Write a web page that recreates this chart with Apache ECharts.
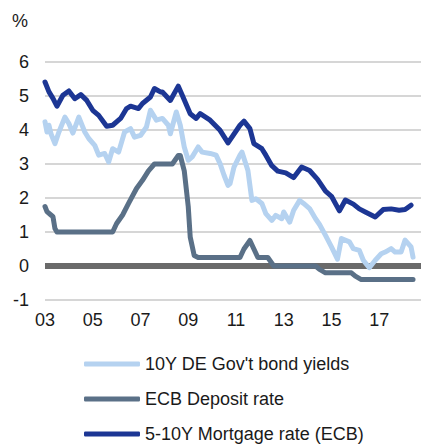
<!DOCTYPE html>
<html>
<head>
<meta charset="utf-8">
<script src="https://cdn.jsdelivr.net/npm/echarts@6/dist/echarts.min.js"></script>
<style>
    html, body { margin: 0; padding: 0; background: #fff; }
    #rates_chart { width: 424px; height: 446px; }
</style>
</head>
<body>
<div id="rates_chart"></div>
<script>
// data (month, value)
var seriesNames = ['10Y DE Gov\'t bond yields', 'ECB Deposit rate', '5-10Y Mortgage rate (ECB)'];
var xTickLabels = ['03', '05', '07', '09', '11', '13', '15', '17'];

var bundDates = ['2003-01','2003-02','2003-03','2003-04','2003-06','2003-08','2003-11','2004-01','2004-03','2004-06',
    '2004-09','2004-11','2005-02','2005-04','2005-07','2005-09','2005-11','2006-02','2006-05','2006-08',
    '2006-10','2007-01','2007-04','2007-06','2007-09','2007-12','2008-03','2008-04','2008-07','2008-09',
    '2008-11','2009-01','2009-03','2009-06','2009-08','2009-12','2010-03','2010-05','2010-07','2010-09',
    '2010-10','2010-12','2011-03','2011-04','2011-07','2011-09','2011-11','2012-02','2012-04','2012-07',
    '2012-09','2012-12','2013-01','2013-04','2013-06','2013-09','2013-11','2014-02','2014-05','2014-07',
    '2014-10','2015-01','2015-04','2015-06','2015-10','2015-12','2016-03','2016-05','2016-08','2016-11',
    '2017-02','2017-04','2017-07','2017-09','2017-12','2018-02','2018-05','2018-06'];
var bundValues = [4.24,3.94,4.14,3.89,3.6,3.94,4.38,4.19,3.91,4.38,
    3.94,3.75,3.55,3.26,3.31,3.06,3.45,3.35,3.94,4.04,
    3.79,3.84,4.09,4.58,4.29,4.34,4.14,3.89,4.53,4.14,
    3.5,3.11,3.21,3.5,3.35,3.31,3.26,3.01,2.67,2.37,
    2.42,2.91,3.26,3.35,2.81,1.93,1.98,1.84,1.54,1.34,
    1.49,1.39,1.59,1.29,1.64,1.93,1.84,1.69,1.39,1.22,
    0.9,0.56,0.2,0.81,0.71,0.51,0.46,0.17,-0.05,0.17,
    0.36,0.41,0.51,0.41,0.41,0.76,0.56,0.26];

var depoDates = ['2003-01','2003-02','2003-04','2003-05','2003-06','2003-07','2005-11','2006-01','2006-04','2006-07',
    '2006-11','2007-02','2007-05','2007-08','2008-05','2008-08','2008-09','2008-11','2009-01','2009-02',
    '2009-04','2009-06','2011-03','2011-05','2011-08','2011-10','2011-12','2012-05','2012-08','2014-05',
    '2014-07','2014-10','2015-11','2016-01','2016-04','2018-06'];
var depoValues = [1.75,1.6,1.5,1.45,1.1,1.0,1.0,1.25,1.5,1.84,
    2.28,2.52,2.8,3.0,3.0,3.25,3.25,2.8,1.75,0.85,
    0.31,0.25,0.25,0.5,0.75,0.5,0.25,0.25,0.0,0.0,
    -0.1,-0.2,-0.2,-0.3,-0.4,-0.4];

var mortDates = ['2003-01','2003-03','2003-05','2003-07','2003-10','2004-01','2004-04','2004-07','2004-10','2005-01',
    '2005-04','2005-08','2005-11','2006-03','2006-06','2006-08','2006-12','2007-02','2007-06','2007-08',
    '2007-11','2007-12','2008-04','2008-08','2008-10','2009-02','2009-05','2009-07','2009-12','2010-05',
    '2010-09','2011-03','2011-05','2011-08','2011-10','2012-02','2012-04','2012-07','2012-10','2013-02',
    '2013-06','2013-10','2014-02','2014-06','2014-10','2015-01','2015-05','2015-08','2015-12','2016-03',
    '2016-06','2016-11','2017-03','2017-07','2017-11','2018-02','2018-05'];
var mortValues = [5.41,5.12,4.93,4.7,5.02,5.15,4.92,5.04,4.87,4.58,
    4.43,4.11,4.14,4.34,4.63,4.7,4.63,4.78,4.97,5.22,
    5.12,5.12,4.87,5.29,5.02,4.48,4.34,4.48,4.29,3.99,
    3.62,4.14,4.26,4.04,3.6,3.45,3.26,2.95,2.79,2.74,
    2.6,2.91,2.81,2.55,2.2,2.05,1.62,1.94,1.82,1.68,
    1.59,1.44,1.66,1.68,1.64,1.66,1.79];

(function(){
    'use strict';
    var font = 'Liberation Sans';

    // months since Jan 2003
    function toPoints(dates, values){
        return dates.map(function(d, i){
            var p = d.split('-');
            return [(+p[0] - 2003) * 12 + (+p[1] - 1), values[i]];
        });
    }

    function lineSeries(name, color, dates, values){
        return {
            name: name,
            type: 'line',
            showSymbol: false,
            symbol: 'none',
            data: toPoints(dates, values),
            lineStyle: {color: color, width: 5, join: 'round', cap: 'round'},
            itemStyle: {color: color}
        };
    }

    var myChart = echarts.init(document.getElementById('rates_chart'), null, {renderer: 'svg'});
    var bund = lineSeries(seriesNames[0], '#b5d2f0', bundDates, bundValues);
    var depo = lineSeries(seriesNames[1], '#5a7087', depoDates, depoValues);
    var mort = lineSeries(seriesNames[2], '#1c3694', mortDates, mortValues);
    // thick zero line under the series
    bund.markLine = {
        z: 1,
        silent: true,
        symbol: 'none',
        label: {show: false},
        lineStyle: {color: '#6a6a6a', width: 6, type: 'solid'},
        data: [{yAxis: 0}]
    };

    var option = {
        animation: false,
        title: {
            text: '%',
            left: 7,
            top: 7,
            textStyle: {fontFamily: font, fontSize: 18, fontWeight: 'normal', color: '#1a1a1a'}
        },
        grid: {left: 45, right: 1, top: 62, bottom: 146},
        legend: {
            orient: 'vertical',
            left: 79,
            top: 350,
            height: 110,
            icon: 'roundRect',
            itemWidth: 56,
            itemHeight: 5,
            itemGap: 17,
            textStyle: {fontFamily: font, fontSize: 18, color: '#1a1a1a'},
            data: seriesNames
        },
        xAxis: {
            type: 'value',
            min: 0,
            max: 189,
            interval: 24,
            axisLine: {show: false},
            axisTick: {show: false},
            splitLine: {show: false},
            axisLabel: {
                margin: 11,
                fontFamily: font,
                fontSize: 18,
                color: '#1a1a1a',
                formatter: function(v){
                    return xTickLabels[v / 24] || '';
                }
            }
        },
        yAxis: {
            type: 'value',
            min: -1,
            max: 6,
            interval: 1,
            axisLine: {show: false},
            axisTick: {show: false},
            splitLine: {lineStyle: {color: '#c8c8c8', width: 1.5}},
            axisLabel: {margin: 16, fontFamily: font, fontSize: 18, color: '#1a1a1a'}
        },
        series: [bund, depo, mort]
    };
    myChart.setOption(option);
})();
</script>
</body>
</html>
